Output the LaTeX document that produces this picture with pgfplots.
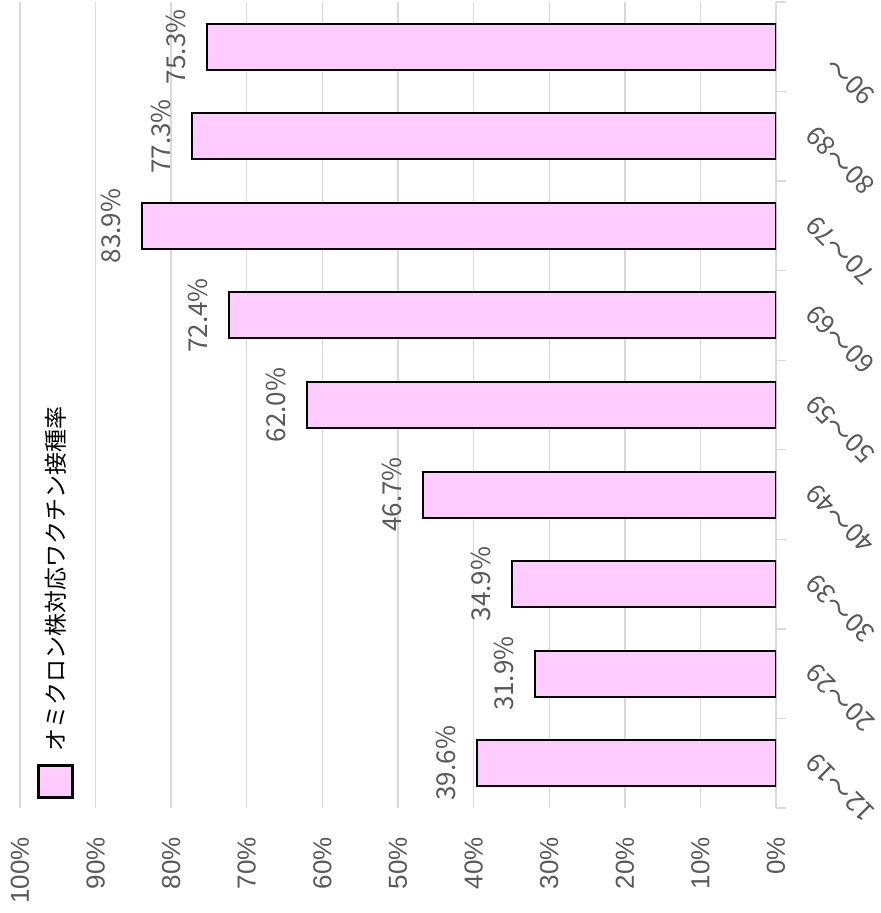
\documentclass[border=0pt]{standalone}
\usepackage{fontspec}
\setmainfont{Noto Sans CJK JP}
\newfontfamily\tickfont{Liberation Sans}
\usepackage{pgfplots}
\pgfplotsset{compat=1.18}
\definecolor{barpink}{HTML}{FFCCFF}
\definecolor{txtgray}{HTML}{595959}
\definecolor{gridgray}{HTML}{D9D9D9}
\begin{document}
\begin{tikzpicture}
\useasboundingbox (-10pt,-52.5pt) rectangle (430pt,404pt);
\begin{axis}[
  at={(0pt,0pt)}, anchor=south west,
  scale only axis, width=378pt, height=403pt,
  xbar, bar width=23pt, bar shift=0pt,
  x dir=reverse,
  xmin=0, xmax=100, ymin=-0.5, ymax=8.5,
  xtick={0,10,20,30,40,50,60,70,80,90,100},
  xticklabels={0\%,10\%,20\%,30\%,40\%,50\%,60\%,70\%,80\%,90\%,100\%},
  xmajorgrids, grid style={gridgray, line width=0.7pt},
  major tick length=0pt,
  xticklabel style={rotate=90, anchor=east, inner sep=0pt, font=\tickfont\fontsize{13}{13}\selectfont, text=txtgray},
  xticklabel shift=14.5pt,
  ytick={0,1,2,3,4,5,6,7,8},
  yticklabels={12～19,20～29,30～39,40～49,50～59,60～69,70～79,80～89,90～},
  yticklabel pos=right, ytick pos=right,
  minor ytick={-0.5,0.5,1.5,2.5,3.5,4.5,5.5,6.5,7.5,8.5},
  minor tick length=5pt,
  minor y tick style={gridgray, line width=0.7pt},
  tick align=outside,
  yticklabel style={yshift=-27pt, rotate=135, anchor=west, inner sep=0pt, font=\fontsize{13}{13}\selectfont, text=txtgray},
  yticklabel shift=47pt,
  axis line style={draw=none},
  point meta=x,
  nodes near coords={\pgfmathprintnumber[fixed,fixed zerofill,precision=1,assume math mode=true]{\pgfplotspointmeta}\%},
  every node near coord/.append style={rotate=90, anchor=south, inner xsep=0pt, inner ysep=10pt, font=\fontsize{13}{13}\selectfont, text=txtgray},
]
\addplot[fill=barpink, draw=black, line width=1pt] coordinates {
  (39.6,0) (31.9,1) (34.9,2) (46.7,3) (62.0,4) (72.4,5) (83.9,6) (77.3,7) (75.3,8)
};
\end{axis}
\draw[fill=barpink, draw=black, line width=1.5pt] (9pt,5pt) rectangle (26pt,21pt);
\node[rotate=90, anchor=west, inner sep=0pt, font=\fontsize{11.5}{11.5}\selectfont] at (18pt,28pt) {オミクロン株対応ワクチン接種率};
\end{tikzpicture}
\end{document}
